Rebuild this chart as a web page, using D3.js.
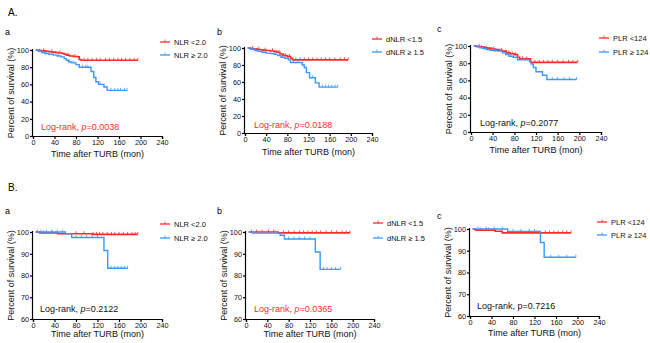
<!DOCTYPE html>
<html>
<head>
<meta charset="utf-8">
<script src="https://cdn.jsdelivr.net/npm/d3@7"></script>
<style>
  body { margin: 0; background: #fff; }
  text { font-family: Arial, "Liberation Sans", sans-serif; }
</style>
</head>
<body>
<svg id="chart" width="650" height="343"></svg>
<script>
// ---- data (time in months, survival in %) ----
const xTicks = [0, 40, 80, 120, 160, 200, 240];
const yTicksA = [0, 20, 40, 60, 80, 100];
const yTicksB = [60, 70, 80, 90, 100];

// A-a : NLR
const aaLow = [[5,100],[12,99.5],[18,99],[24,98.5],[30,98],[36,97.5],[42,97],[48,96.5],[54,96],[58,95],[62,94],[68,93],[75,92.5],[84,92],[86,89],[90,88],[195,88]];
const aaLowCens = [20,35,50,65,78,95,102,110,118,125,135,142,150,158,165,172,180,188,195];
const aaHigh = [[5,100],[10,98.5],[16,97],[22,96],[30,95],[38,94],[45,93],[52,92],[58,90],[62,88],[66,86],[72,85],[80,83],[86,80],[108,75],[113,68],[117,63],[122,60],[132,57],[138,53],[175,53]];
const aaHighCens = [25,48,68,76,92,98,102,125,145,152,158,163,170,175];
// A-b : dNLR
const abLow = [[5,100],[10,99.5],[16,99],[22,98.5],[28,98],[34,97.5],[40,97],[48,96.5],[55,96],[60,95],[66,93],[72,91],[80,90],[86,88],[90,86],[195,86]];
const abLowCens = [14,26,38,52,64,76,84,96,104,112,120,128,136,144,152,160,170,180,188,195];
const abHigh = [[5,100],[10,98.5],[18,97],[25,96],[32,95],[40,94],[48,93.5],[55,92.5],[62,91],[68,89],[75,88],[82,86],[86,83],[108,80],[112,77],[116,71],[122,65],[133,59],[140,54],[175,54]];
const abHighCens = [20,36,58,70,92,100,128,146,152,158,164,170,175];
// A-c : PLR
const acLow = [[5,100],[12,99.5],[18,99],[24,98],[30,97.5],[38,96.5],[45,96],[52,95],[58,94],[65,92],[72,91],[80,90],[86,87],[90,85],[110,81],[197,81]];
const acLowCens = [15,28,42,56,70,76,82,95,102,118,126,134,142,150,160,170,180,188,197];
const acHigh = [[5,100],[10,99],[16,98],[22,97],[28,96],[35,95],[42,94.5],[50,94],[58,92],[64,90],[70,88],[78,87],[86,84],[108,82],[111,79],[115,75],[120,70],[132,66],[140,61],[195,61]];
const acHighCens = [20,46,74,96,104,150,160,172,182,195];
// B-a : NLR
const baLow = [[5,100],[12,99.6],[46,99.2],[110,98.9],[195,98.9]];
const baLowCens = [8,20,35,60,80,95,112,118,124,130,138,146,152,160,168,176,184,190,195];
const baHigh = [[5,100],[60,99.2],[72,97.5],[130,97.5],[132,91.5],[139,83.3],[176,83.3]];
const baHighCens = [15,25,35,45,55,80,90,100,110,120,145,152,158,164,170,176];
// B-b : dNLR
const bbLow = [[5,100],[60,99.6],[195,99.6]];
const bbLowCens = [10,20,30,42,52,70,80,90,100,108,116,124,132,140,150,160,170,180,188,195];
const bbHigh = [[5,100],[12,99.5],[64,98.5],[72,96.8],[129,96.8],[130,90.8],[139,82.8],[177,82.8]];
const bbHighCens = [25,40,55,80,90,100,110,120,145,152,160,168,177];
// B-c : PLR
const bcLow = [[5,100],[10,99.5],[47,99],[60,98.2],[188,98.2]];
const bcLowCens = [20,35,70,90,110,125,140,148,156,164,172,180,188];
const bcHigh = [[5,100],[70,98.9],[130,98.9],[131,93.8],[138,87],[197,87]];
const bcHighCens = [15,30,45,60,80,95,110,120,150,165,180,197];

const labelsNLR = ["NLR <2.0", "NLR \u2265 2.0"];
const labelsDNLR = ["dNLR <1.5", "dNLR \u2265 1.5"];
const labelsPLR = ["PLR <124", "PLR \u2265 124"];
const pValues = ["0.0038", "0.0188", "0.2077", "0.2122", "0.0365", "0.7216"];

// ---- layout ----
const RED = "#ff2b2b", BLUE = "#3a98ff";
const panels = [
  { x0: 33, x1: 162, yt: 50, yb: 136, dom: [0,100], ticks: yTicksA, low: aaLow, lowC: aaLowCens, high: aaHigh, highC: aaHighCens, labels: labelsNLR, p: pValues[0], pRed: true, pItal: true, lg: [160,42,13], lr: [41,130], xt: 157, let: ["a",5,35] },
  { x0: 245, x1: 372, yt: 48, yb: 133, dom: [0,100], ticks: yTicksA, low: abLow, lowC: abLowCens, high: abHigh, highC: abHighCens, labels: labelsDNLR, p: pValues[1], pRed: true, pItal: true, lg: [372,39,13], lr: [254,128], xt: 155, let: ["b",217,35] },
  { x0: 471, x1: 601, yt: 46, yb: 132, dom: [0,100], ticks: yTicksA, low: acLow, lowC: acLowCens, high: acHigh, highC: acHighCens, labels: labelsPLR, p: pValues[2], pRed: false, pItal: true, lg: [599,38,14], lr: [480,126], xt: 153, let: ["c",437,32] },
  { x0: 33, x1: 162, yt: 232, yb: 319, dom: [60,100], ticks: yTicksB, low: baLow, lowC: baLowCens, high: baHigh, highC: baHighCens, labels: labelsNLR, p: pValues[3], pRed: false, pItal: true, lg: [160,224,14], lr: [40,312], xt: 337, let: ["a",5,214] },
  { x0: 246, x1: 374, yt: 232, yb: 319, dom: [60,100], ticks: yTicksB, low: bbLow, lowC: bbLowCens, high: bbHigh, highC: bbHighCens, labels: labelsDNLR, p: pValues[4], pRed: true, pItal: true, lg: [373,223,15], lr: [254,312], xt: 337, let: ["b",217,214] },
  { x0: 470, x1: 599, yt: 229, yb: 316, dom: [60,100], ticks: yTicksB, low: bcLow, lowC: bcLowCens, high: bcHigh, highC: bcHighCens, labels: labelsPLR, p: pValues[5], pRed: false, pItal: false, lg: [597,222,13], lr: [477,309], xt: 336, let: ["c",437,219] }
];

const svg = d3.select("#chart");
svg.append("text").attr("x", 8).attr("y", 16).attr("font-size", 10).text("A.");
svg.append("text").attr("x", 8).attr("y", 191).attr("font-size", 10).text("B.");

// step value at time t
const survAt = (steps, t) => {
  let v = steps[0][1];
  steps.forEach(s => { if (s[0] <= t) v = s[1]; });
  return v;
};

panels.forEach(p => {
  const g = svg.append("g");
  const x = d3.scaleLinear().domain([0, 240]).range([p.x0, p.x1]);
  const y = d3.scaleLinear().domain(p.dom).range([p.yb, p.yt]);

  g.append("text").attr("x", p.let[1]).attr("y", p.let[2]).attr("font-size", 9).text(p.let[0]);

  const xAxis = g.append("g").attr("transform", `translate(0,${p.yb})`)
    .call(d3.axisBottom(x).tickValues(xTicks).tickSize(3).tickPadding(1));
  const yAxis = g.append("g").attr("transform", `translate(${p.x0},0)`)
    .call(d3.axisLeft(y).tickValues(p.ticks).tickSize(3).tickPadding(1));
  [xAxis, yAxis].forEach(a => {
    a.selectAll("path,line").attr("stroke", "#000").attr("stroke-width", 1.2);
    a.selectAll("text").attr("font-size", 7.3).attr("font-family", "Arial, 'Liberation Sans', sans-serif").attr("fill", "#111");
  });
  yAxis.select(".domain").attr("d", `M-0.5,${p.yt - 1}V${p.yb}`);

  g.append("text").attr("x", (p.x0 + p.x1) / 2).attr("y", p.xt)
    .attr("text-anchor", "middle").attr("font-size", 9).attr("fill", "#111").text("Time after TURB (mon)");
  g.append("text")
    .attr("transform", `translate(${p.x0 - 19},${(p.yt + p.yb) / 2}) rotate(-90)`)
    .attr("text-anchor", "middle").attr("font-size", 9).attr("fill", "#111").text("Percent of survival (%)");

  const line = d3.line().x(d => x(d[0])).y(d => y(d[1])).curve(d3.curveStepAfter);
  [[p.low, p.lowC, RED], [p.high, p.highC, BLUE]].forEach(([steps, cens, col], i) => {
    g.append("path").datum(steps).attr("d", line).attr("fill", "none")
      .attr("stroke", col).attr("stroke-width", i === 0 ? 1.6 : 1.4);
    g.selectAll(null).data(cens).enter().append("line")
      .attr("x1", d => x(d)).attr("x2", d => x(d))
      .attr("y1", d => y(survAt(steps, d))).attr("y2", d => y(survAt(steps, d)) - 2.5)
      .attr("stroke", col).attr("stroke-width", 0.8);
  });

  // legend
  [RED, BLUE].forEach((col, i) => {
    const ly = p.lg[1] + i * p.lg[2];
    g.append("line").attr("x1", p.lg[0]).attr("x2", p.lg[0] + 10).attr("y1", ly).attr("y2", ly)
      .attr("stroke", col).attr("stroke-width", 1.3);
    g.append("line").attr("x1", p.lg[0] + 5).attr("x2", p.lg[0] + 5).attr("y1", ly).attr("y2", ly - 2.5)
      .attr("stroke", col).attr("stroke-width", 0.8);
    g.append("text").attr("x", p.lg[0] + 14).attr("y", ly + 2.5).attr("font-size", 7.5).attr("fill", "#111")
      .text(p.labels[i]);
  });

  // log-rank
  const t = g.append("text").attr("x", p.lr[0]).attr("y", p.lr[1]).attr("font-size", 9)
    .attr("fill", p.pRed ? RED : "#111");
  t.append("tspan").text("Log-rank, ");
  t.append("tspan").attr("font-style", p.pItal ? "italic" : "normal").text("p");
  t.append("tspan").text("=" + p.p);
});
</script>
</body>
</html>
